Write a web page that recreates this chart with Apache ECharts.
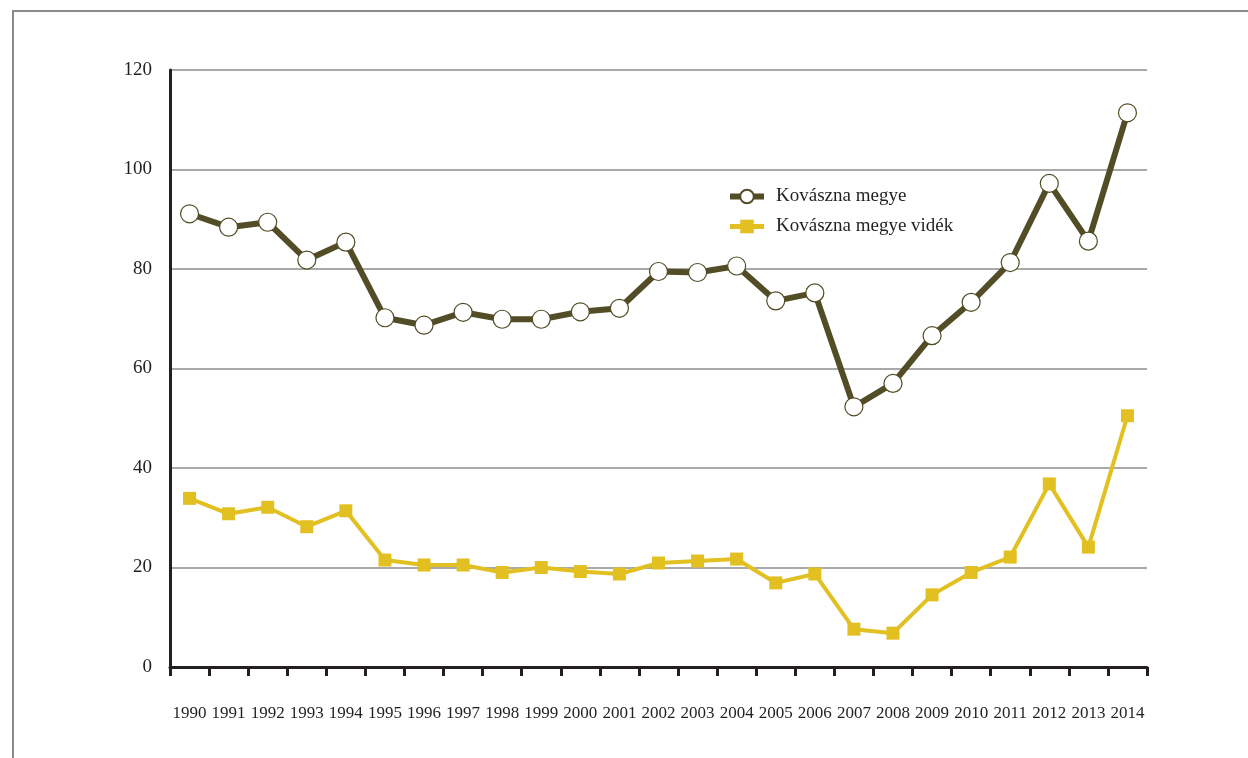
<!DOCTYPE html>
<html>
<head>
<meta charset="utf-8">
<script src="https://cdn.jsdelivr.net/npm/echarts@6/dist/echarts.min.js"></script>
<style>html,body{margin:0;padding:0;background:#fff;}#c{width:1248px;height:758px;}</style>
</head>
<body>
<div id="c"></div>
<script>
const years = ['1990','1991','1992','1993','1994','1995','1996','1997','1998','1999','2000','2001','2002','2003','2004','2005','2006','2007','2008','2009','2010','2011','2012','2013','2014'];
const kovaszna = [91.1,88.4,89.4,81.8,85.4,70.2,68.7,71.3,69.9,69.9,71.4,72.1,79.5,79.3,80.6,73.6,75.2,52.3,57.0,66.6,73.3,81.3,97.2,85.6,111.4];
const videk = [33.9,30.8,32.1,28.2,31.4,21.5,20.5,20.5,19.0,20.0,19.2,18.7,20.9,21.3,21.7,16.9,18.7,7.6,6.8,14.5,19.0,22.1,36.8,24.1,50.5];
const seriesNames = ['Kovászna megye','Kovászna megye vidék'];

const chart = echarts.init(document.getElementById('c'));
const font = 'Liberation Serif';
chart.setOption({
  backgroundColor: '#fff',
  animation: false,
  graphic: [
    {type:'line', shape:{x1:12, y1:11, x2:1248, y2:11}, style:{stroke:'#8a8a8a', lineWidth:2}},
    {type:'line', shape:{x1:13, y1:10, x2:13, y2:758}, style:{stroke:'#8a8a8a', lineWidth:2}}
  ],
  grid: {left:170, right:101, top:70, bottom:91},
  legend: {
    orient:'vertical', left:722, top:182, itemGap:11, itemWidth:34, itemHeight:17,
    textStyle:{fontFamily:font, fontSize:19, color:'#231f20', padding:[0,0,0,7]},
    data: [
      {name: seriesNames[0], lineStyle:{width:6}},
      {name: seriesNames[1], lineStyle:{width:5}}
    ]
  },
  xAxis: {
    type:'category', data: years, boundaryGap:true,
    axisLine:{lineStyle:{color:'#231f20', width:3}},
    axisTick:{show:true, interval:0, length:9, lineStyle:{color:'#231f20', width:3}},
    axisLabel:{fontFamily:font, fontSize:17, color:'#231f20', margin:38, interval:0},
    splitLine:{show:false}
  },
  yAxis: {
    type:'value', min:0, max:120, interval:20,
    axisLine:{show:true, lineStyle:{color:'#231f20', width:3}},
    axisTick:{show:false},
    axisLabel:{fontFamily:font, fontSize:19, color:'#231f20', margin:18},
    splitLine:{lineStyle:{color:'#8c8c8c', width:1.5}}
  },
  series: [
    {
      name: seriesNames[0], type:'line', data: kovaszna,
      symbol:'circle', symbolSize:18,
      lineStyle:{color:'#524d26', width:6},
      itemStyle:{color:'#ffffff', borderColor:'#524d26', borderWidth:1.2},
      z:3
    },
    {
      name: seriesNames[1], type:'line', data: videk,
      symbol:'rect', symbolSize:13,
      lineStyle:{color:'#e2c022', width:4},
      itemStyle:{color:'#e2c022'},
      z:2
    }
  ]
});
</script>
</body>
</html>
